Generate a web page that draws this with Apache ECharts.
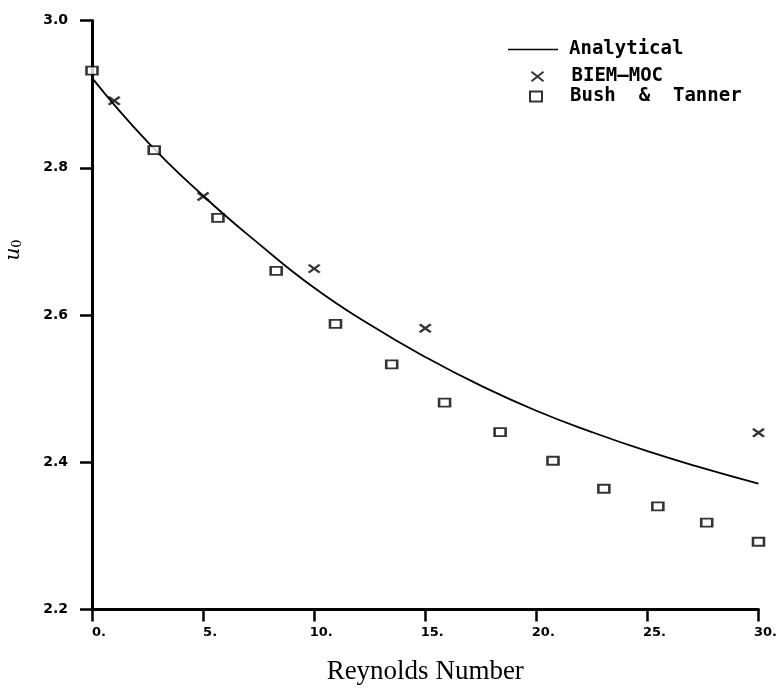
<!DOCTYPE html>
<html>
<head>
<meta charset="utf-8">
<script src="https://cdn.jsdelivr.net/npm/echarts@6/dist/echarts.min.js"></script>
<style>
    html, body { margin: 0; padding: 0; background: #fff; }
    #chart { width: 780px; height: 693px; }
</style>
</head>
<body>
<div id="chart"></div>
<script>
// analytical solution
var reAnalytical = [0, 2.5, 5, 7.5, 10, 12.5, 15, 17.5, 20, 22.5, 25, 27.5, 30];
var u0Analytical = [2.922, 2.835, 2.762, 2.697, 2.637, 2.587, 2.543, 2.504, 2.470, 2.441, 2.415, 2.392, 2.371];

// BIEM-MOC points
var reBiem = [1, 5, 10, 15, 30];
var u0Biem = [2.891, 2.761, 2.663, 2.582, 2.440];

// Bush & Tanner points
var reBush = [0, 2.8, 5.67, 8.29, 10.96, 13.49, 15.87, 18.37, 20.75, 23.04, 25.47, 27.67, 30];
var u0Bush = [2.932, 2.824, 2.732, 2.660, 2.588, 2.533, 2.481, 2.441, 2.402, 2.364, 2.340, 2.318, 2.292];

var xTicks = [0, 5, 10, 15, 20, 25, 30];
var yTicks = [2.2, 2.4, 2.6, 2.8, 3.0];

function pairs(xs, ys) {
    var out = [];
    xs.forEach(function (x, i) {
        out.push([x, ys[i]]);
    });
    return out;
}

var plotFont = 'DejaVu Sans';
var legendText = { fontFamily: 'DejaVu Sans Mono', fontWeight: 'bold', fontSize: 19, color: '#000' };
var crossPath = 'path://M0,0L10,8M10,0L0,8';

var myChart = echarts.init(document.getElementById('chart'));

var option = {
    animation: false,
    backgroundColor: '#fff',
    grid: { left: 92, right: 20, top: 20.5, bottom: 83.5 },
    legend: [{
        data: [{ name: 'Analytical', icon: 'rect', itemStyle: { color: '#000' } }],
        left: 508, top: 40, padding: 0,
        itemWidth: 50, itemHeight: 1.6,
        textStyle: Object.assign({ padding: [0, 0, 0, 6] }, legendText)
    }, {
        data: ['BIEM\u2014MOC'],
        left: 529, top: 67, padding: 0,
        itemWidth: 12, itemHeight: 10,
        textStyle: Object.assign({ padding: [0, 0, 0, 23] }, legendText)
    }, {
        data: ['Bush & Tanner'],
        left: 529, top: 87, padding: 0,
        itemWidth: 12, itemHeight: 10,
        textStyle: Object.assign({ padding: [0, 0, 0, 23] }, legendText),
        formatter: function () { return 'Bush  &  Tanner'; }
    }],
    xAxis: {
        type: 'value',
        min: 0, max: 30, interval: 5,
        name: 'Reynolds Number',
        nameLocation: 'middle',
        nameGap: 49,
        nameTextStyle: { fontFamily: 'Liberation Serif', fontSize: 27, color: '#000' },
        axisLine: { lineStyle: { color: '#000', width: 3 } },
        axisTick: { length: 12, lineStyle: { color: '#000', width: 2.5 } },
        axisLabel: {
            margin: 17,
            fontFamily: plotFont, fontWeight: 'bold', fontSize: 13, color: '#000',
            padding: [0, 0, 0, 14],
            customValues: xTicks,
            formatter: function (v) { return v + '.'; }
        },
        splitLine: { show: false }
    },
    yAxis: {
        type: 'value',
        min: 2.2, max: 3.0, interval: 0.2,
        axisLine: { lineStyle: { color: '#000', width: 3 } },
        axisTick: { length: 12, lineStyle: { color: '#000', width: 2.5 } },
        axisLabel: {
            margin: 24,
            fontFamily: plotFont, fontWeight: 'bold', fontSize: 14, color: '#000',
            customValues: yTicks,
            formatter: function (v) { return v.toFixed(1); }
        },
        splitLine: { show: false }
    },
    graphic: [{
        type: 'text',
        x: 14, y: 250,
        rotation: Math.PI / 2,
        style: {
            text: '{u|u}{s|0}',
            align: 'center', verticalAlign: 'middle',
            rich: {
                u: { fontFamily: 'DejaVu Serif', fontStyle: 'italic', fontSize: 20, fill: '#000' },
                s: { fontFamily: 'DejaVu Serif', fontSize: 13, fill: '#000', padding: [8, 0, 0, 0] }
            }
        }
    }],
    series: [{
        name: 'Analytical',
        type: 'line',
        data: pairs(reAnalytical, u0Analytical),
        smooth: true,
        symbol: 'none',
        lineStyle: { color: '#000', width: 1.8 },
        itemStyle: { color: '#000' },
        z: 2
    }, {
        name: 'BIEM\u2014MOC',
        type: 'scatter',
        data: pairs(reBiem, u0Biem),
        symbol: crossPath,
        symbolSize: [11, 8],
        itemStyle: { color: 'none', borderColor: '#000', borderWidth: 2.4 },
        z: 3
    }, {
        name: 'Bush & Tanner',
        type: 'scatter',
        data: pairs(reBush, u0Bush),
        symbol: 'rect',
        symbolSize: [11, 8],
        itemStyle: { color: '#fff', borderColor: '#000', borderWidth: 2.2 },
        z: 3
    }]
};

myChart.setOption(option);
</script>
</body>
</html>
